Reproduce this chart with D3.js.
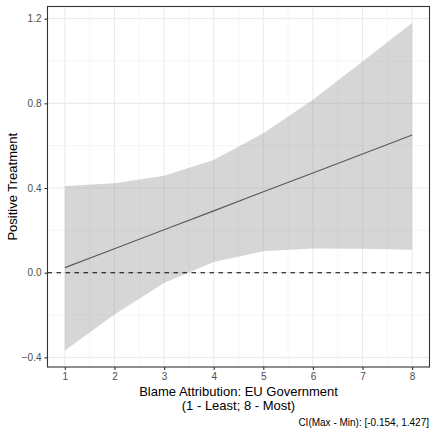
<!DOCTYPE html>
<html>
<head>
<meta charset="utf-8">
<script src="https://cdn.jsdelivr.net/npm/d3@7"></script>
<style>
  body { margin: 0; background: #fff; }
  text { font-family: "Liberation Sans", Arial, sans-serif; }
</style>
</head>
<body>
<div class="graph"></div>
<script>
const w = 432;
const h = 429;
const margin = {top: 6.5, right: 2.5, bottom: 62, left: 47.5};

// data
const blame = [1, 2, 3, 4, 5, 6, 7, 8];
const estimate = [0.024, 0.113, 0.203, 0.292, 0.382, 0.471, 0.561, 0.650];
const upper = [0.410, 0.423, 0.458, 0.532, 0.659, 0.817, 0.998, 1.180];
const lower = [-0.368, -0.198, -0.049, 0.050, 0.101, 0.114, 0.113, 0.109];
const xTicks = [1, 2, 3, 4, 5, 6, 7, 8];
const yTicks = [-0.4, 0.0, 0.4, 0.8, 1.2];
const yMinor = [-0.2, 0.2, 0.6, 1.0];
const xMinor = [1.5, 2.5, 3.5, 4.5, 5.5, 6.5, 7.5];

const data = blame.map((b, i) => ({x: b, y: estimate[i], lo: lower[i], hi: upper[i]}));

const canvas = d3.select('.graph')
  .append("svg")
  .attr("width", w)
  .attr("height", h);

const xMin = 1, xMax = 8, xPad = (xMax - xMin) * 0.05;
const yMin = d3.min(lower), yMax = d3.max(upper), yPad = (yMax - yMin) * 0.05;

const xScale = d3.scaleLinear()
  .domain([xMin - xPad, xMax + xPad])
  .range([margin.left, w - margin.right]);
const yScale = d3.scaleLinear()
  .domain([yMin - yPad, yMax + yPad])
  .range([h - margin.bottom, margin.top]);

// grid
const grid = canvas.append("g");
grid.selectAll(".ymin").data(yMinor).enter().append("line")
  .attr("x1", margin.left).attr("x2", w - margin.right)
  .attr("y1", d => yScale(d)).attr("y2", d => yScale(d))
  .attr("stroke", "#ebebeb").attr("stroke-width", 0.5);
grid.selectAll(".xmin").data(xMinor).enter().append("line")
  .attr("y1", margin.top).attr("y2", h - margin.bottom)
  .attr("x1", d => xScale(d)).attr("x2", d => xScale(d))
  .attr("stroke", "#ebebeb").attr("stroke-width", 0.5);
grid.selectAll(".ymaj").data(yTicks).enter().append("line")
  .attr("x1", margin.left).attr("x2", w - margin.right)
  .attr("y1", d => yScale(d)).attr("y2", d => yScale(d))
  .attr("stroke", "#ebebeb").attr("stroke-width", 1.1);
grid.selectAll(".xmaj").data(xTicks).enter().append("line")
  .attr("y1", margin.top).attr("y2", h - margin.bottom)
  .attr("x1", d => xScale(d)).attr("x2", d => xScale(d))
  .attr("stroke", "#ebebeb").attr("stroke-width", 1.1);

// ribbon
canvas.append("path")
  .datum(data)
  .attr("d", d3.area().x(d => xScale(d.x)).y0(d => yScale(d.lo)).y1(d => yScale(d.hi)))
  .attr("fill", "#999999")
  .attr("fill-opacity", 0.4);

// estimate line
canvas.append("path")
  .datum(data)
  .attr("d", d3.line().x(d => xScale(d.x)).y(d => yScale(d.y)))
  .attr("fill", "none")
  .attr("stroke", "#595959")
  .attr("stroke-width", 1.1);

// zero reference
canvas.append("line")
  .attr("x1", margin.left).attr("x2", w - margin.right)
  .attr("y1", yScale(0)).attr("y2", yScale(0))
  .attr("stroke", "#000")
  .attr("stroke-width", 1.1)
  .attr("stroke-dasharray", "4.5,4.5");

// border
canvas.append("rect")
  .attr("x", margin.left).attr("y", margin.top)
  .attr("width", w - margin.left - margin.right)
  .attr("height", h - margin.top - margin.bottom)
  .attr("fill", "none")
  .attr("stroke", "#333").attr("stroke-width", 1.1);

// axes
const xAxis = canvas.append("g")
  .attr("transform", `translate(0, ${h - margin.bottom})`)
  .call(d3.axisBottom(xScale).tickValues(xTicks).tickFormat(d3.format("d")).tickSize(3).tickPadding(3));
const yAxis = canvas.append("g")
  .attr("transform", `translate(${margin.left}, 0)`)
  .call(d3.axisLeft(yScale).tickValues(yTicks).tickFormat(d3.format(".1f")).tickSize(3).tickPadding(3));
[xAxis, yAxis].forEach(a => {
  a.select(".domain").remove();
  a.selectAll(".tick line").attr("stroke", "#333").attr("stroke-width", 1.1);
  a.selectAll(".tick text").attr("fill", "#4d4d4d").style("font-size", "10px")
    .style("font-family", "'Liberation Sans', Arial, sans-serif");
});

// titles
const cx = (margin.left + w - margin.right) / 2;
canvas.append("text")
  .attr("x", cx).attr("y", 396)
  .attr("text-anchor", "middle")
  .style("font-size", "13px")
  .text("Blame Attribution: EU Government");
canvas.append("text")
  .attr("x", cx).attr("y", 410)
  .attr("text-anchor", "middle")
  .style("font-size", "13px")
  .text("(1 - Least; 8 - Most)");

canvas.append("text")
  .attr("transform", "rotate(-90)")
  .attr("x", -(margin.top + h - margin.bottom) / 2)
  .attr("y", 17)
  .attr("text-anchor", "middle")
  .style("font-size", "13px")
  .text("Positive Treatment");

canvas.append("text")
  .attr("x", w - 3)
  .attr("y", 426)
  .attr("text-anchor", "end")
  .style("font-size", "10px")
  .text("CI(Max - Min): [-0.154, 1.427]");
</script>
</body>
</html>
